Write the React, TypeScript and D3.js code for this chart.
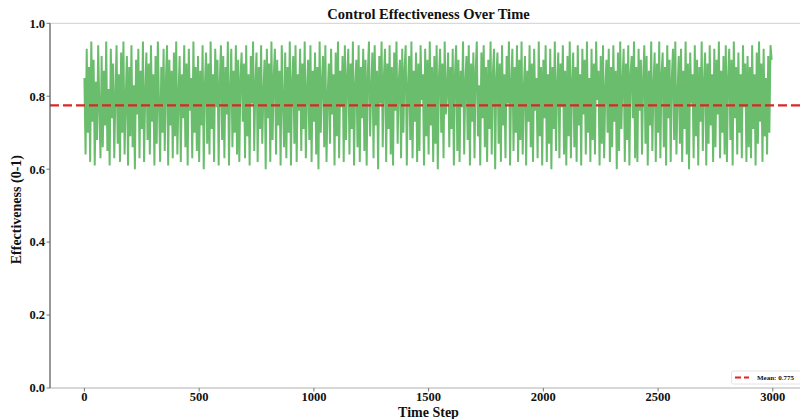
import React from "react";
import * as d3 from "d3";

const effectiveness: number[] = [
  0.85,0.64,0.93,0.70,0.88,0.62,0.95,0.73,0.90,0.61,0.84,0.68,0.94,0.77,0.63,0.91,0.66,0.87,0.72,0.95,
  0.65,0.82,0.61,0.93,0.74,0.89,0.63,0.80,0.94,0.67,0.86,0.62,0.92,0.70,0.95,0.64,0.79,0.91,0.61,0.88,
  0.69,0.94,0.66,0.83,0.60,0.90,0.75,0.93,0.63,0.87,0.71,0.95,0.62,0.81,0.92,0.68,0.89,0.64,0.94,0.73,
  0.86,0.61,0.91,0.67,0.95,0.78,0.62,0.88,0.70,0.93,0.65,0.84,0.94,0.61,0.90,0.72,0.87,0.63,0.92,0.69,
  0.95,0.64,0.80,0.91,0.62,0.86,0.74,0.94,0.66,0.89,0.61,0.93,0.76,0.85,0.63,0.95,0.70,0.88,0.65,0.91,
  0.62,0.87,0.72,0.94,0.60,0.83,0.92,0.67,0.89,0.64,0.95,0.71,0.86,0.62,0.93,0.77,0.90,0.61,0.84,0.94,
  0.68,0.91,0.63,0.88,0.75,0.95,0.61,0.82,0.93,0.66,0.87,0.70,0.94,0.64,0.90,0.62,0.85,0.92,0.73,0.89,
  0.63,0.94,0.69,0.86,0.61,0.91,0.78,0.95,0.65,0.83,0.92,0.62,0.88,0.71,0.94,0.67,0.81,0.90,0.60,0.93,
  0.74,0.89,0.62,0.95,0.68,0.85,0.93,0.64,0.90,0.72,0.87,0.61,0.94,0.79,0.66,0.92,0.63,0.88,0.70,0.95,
  0.61,0.84,0.91,0.67,0.94,0.62,0.86,0.76,0.93,0.65,0.89,0.71,0.95,0.63,0.82,0.90,0.68,0.94,0.62,0.87,
  0.73,0.92,0.64,0.88,0.60,0.95,0.70,0.84,0.91,0.66,0.94,0.62,0.80,0.89,0.67,0.93,0.75,0.86,0.61,0.92,
  0.69,0.95,0.63,0.87,0.77,0.91,0.62,0.94,0.68,0.85,0.93,0.64,0.89,0.71,0.95,0.61,0.83,0.90,0.66,0.94,
  0.62,0.88,0.74,0.93,0.65,0.90,0.61,0.86,0.95,0.69,0.82,0.92,0.63,0.94,0.72,0.87,0.60,0.91,0.78,0.95,
  0.66,0.85,0.93,0.62,0.89,0.71,0.94,0.64,0.88,0.61,0.92,0.76,0.95,0.67,0.84,0.90,0.63,0.93,0.70,0.87,
  0.94,0.61,0.83,0.91,0.68,0.95,0.63,0.87,0.73,0.92,0.62,0.89,0.65,0.94,0.79,0.86,0.61,0.93,0.69,0.90,
  0.64,0.95,0.72,0.88,0.62,0.91,0.67,0.94,0.60,0.85,0.93,0.70,0.89,0.63,0.95,0.75,0.82,0.92,0.66,0.88,
  0.71,0.93,0.61,0.86,0.94,0.65,0.90,0.62,0.87,0.77,0.95,0.64,0.84,0.91,0.68,0.94,0.61,0.89,0.73,0.92,
  0.63,0.87,0.95,0.69,0.83,0.61,0.92,0.74,0.94,0.66,0.88,0.62,0.90,0.71,0.95,0.64,0.86,0.93,0.60,0.85,
  0.92,0.67,0.89,0.62,0.94,0.72,0.86,0.63,0.91,0.78,0.95,0.61,0.84,0.93,0.65,0.88,0.70,0.94,0.62,0.90,
  0.68,0.95,0.64,0.82,0.91,0.61,0.87,0.73,0.94,0.66,0.89,0.62,0.93,0.76,0.85,0.63,0.95,0.69,0.88,0.61,
  0.90,0.74,0.94,0.62,0.86,0.67,0.93,0.60,0.88,0.71,0.95,0.65,0.83,0.92,0.63,0.89,0.77,0.94,0.64,0.87,
  0.61,0.91,0.69,0.95,0.63,0.84,0.92,0.66,0.88,0.62,0.94,0.72,0.86,0.61,0.93,0.75,0.90,0.64,0.95,0.70,
  0.85,0.62,0.93,0.68,0.89,0.64,0.95,0.79,0.87,0.61,0.91,0.67,0.94,0.63,0.82,0.90,0.70,0.93,0.62,0.88,
  0.66,0.94,0.73,0.87,0.60,0.92,0.65,0.95,0.71,0.84,0.93,0.62,0.89,0.68,0.94,0.61,0.86,0.91,0.74,0.95,
  0.63,0.88,0.62,0.93,0.76,0.90,0.64,0.85,0.94,0.67,0.91,0.61,0.87,0.72,0.95,0.65,0.83,0.92,0.62,0.89,
  0.70,0.95,0.63,0.86,0.92,0.66,0.88,0.61,0.94,0.74,0.90,0.62,0.85,0.93,0.68,0.95,0.64,0.81,0.91,0.67,
  0.93,0.62,0.87,0.71,0.95,0.64,0.89,0.60,0.92,0.78,0.86,0.63,0.94,0.69,0.90,0.61,0.88,0.73,0.95,0.65,
  0.84,0.92,0.61,0.89,0.67,0.94,0.72,0.86,0.62,0.93,0.66,0.90,0.75,0.95,0.63,0.87,0.70,0.91,0.64,0.94,
  0.62,0.85,0.93,0.68,0.90,0.61,0.95,0.74,0.88,0.64,0.92,0.70,0.86,0.63,0.94,0.77,0.89,0.62,0.91,0.66,
  0.88,0.63,0.94,0.71,0.86,0.61,0.92,0.67,0.95,0.73,0.89,0.62,0.93,0.69,0.85,0.64,0.91,0.70,0.94,0.90,
];
const stepSize = 5;
const meanValue = 0.775;
const xTicks = [0, 500, 1000, 1500, 2000, 2500, 3000];
const yTicks = [0, 0.2, 0.4, 0.6, 0.8, 1.0];

const W = 800;
const H = 419;
const left = 50;
const right = 807;
const top = 23.3;
const bottom = 388;
const FONT = "'Liberation Serif', 'Times New Roman', serif";

export default function App() {
  const x = d3.scaleLinear().domain([-150, 3149]).range([left, right]);
  const y = d3.scaleLinear().domain([0, 1]).range([bottom, top]);
  const pts: [number, number][] = effectiveness.map((v, i) => [i * stepSize, v]);
  const line = d3
    .line<[number, number]>()
    .x((d) => x(d[0]))
    .y((d) => y(d[1]));

  return (
    <svg
      width={W}
      height={H}
      style={{ position: "absolute", left: 0, top: 0, background: "#fff" }}
      fontFamily={FONT}
    >
      <defs>
        <clipPath id="plotclip">
          <rect x={left} y={top} width={right - left} height={bottom - top} />
        </clipPath>
      </defs>
      <g clipPath="url(#plotclip)">
        <path d={line(pts) || ""} fill="none" stroke="#6abd6c" strokeWidth={2} strokeLinejoin="miter" />
        <line
          x1={left}
          x2={right}
          y1={y(meanValue)}
          y2={y(meanValue)}
          stroke="#dc2626"
          strokeWidth={2.3}
          strokeDasharray="9,4"
        />
      </g>
      {/* spines */}
      <line x1={left} x2={right} y1={top} y2={top} stroke="#d0d0d0" strokeWidth={1} />
      <line x1={left} x2={right} y1={bottom} y2={bottom} stroke="#b0b0b0" strokeWidth={1} />
      <line x1={left} x2={left} y1={top} y2={bottom} stroke="#555" strokeWidth={1.2} />
      {/* y ticks */}
      {yTicks.map((t) => (
        <g key={"y" + t}>
          <line x1={left - 3.5} x2={left} y1={y(t)} y2={y(t)} stroke="#555" strokeWidth={0.8} />
          <text
            x={left - 5}
            y={y(t)}
            dy="0.35em"
            textAnchor="end"
            fontSize={12.5}
            fontWeight="bold"
            fill="#111"
          >
            {t.toFixed(1)}
          </text>
        </g>
      ))}
      {/* x ticks */}
      {xTicks.map((t) => (
        <g key={"x" + t}>
          <line x1={x(t)} x2={x(t)} y1={bottom} y2={bottom + 3.5} stroke="#555" strokeWidth={0.8} />
          <text
            x={x(t)}
            y={401}
            textAnchor="middle"
            fontSize={12.5}
            fontWeight="bold"
            fill="#111"
          >
            {t}
          </text>
        </g>
      ))}
      <text
        x={(left + right) / 2}
        y={19}
        textAnchor="middle"
        fontSize={14.5}
        fontWeight="bold"
        fill="#111"
      >
        Control Effectiveness Over Time
      </text>
      <text
        x={(left + right) / 2}
        y={416.5}
        textAnchor="middle"
        fontSize={14}
        fontWeight="bold"
        fill="#111"
      >
        Time Step
      </text>
      <text
        transform={`translate(21, ${(top + bottom) / 2 + 4}) rotate(-90)`}
        textAnchor="middle"
        fontSize={14}
        fontWeight="bold"
        fill="#111"
      >
        Effectiveness (0-1)
      </text>
      {/* legend */}
      <g>
        <rect x={731.5} y={371} width={80} height={13} rx={2} fill="#fff" stroke="#ddd" strokeWidth={0.8} />
        <line x1={735} x2={749} y1={377.5} y2={377.5} stroke="#dc2626" strokeWidth={2} strokeDasharray="6,3" />
        <text x={757} y={377.5} dy="0.35em" fontSize={7} fontWeight="bold" fill="#111">
          Mean: {meanValue}
        </text>
      </g>
    </svg>
  );
}
